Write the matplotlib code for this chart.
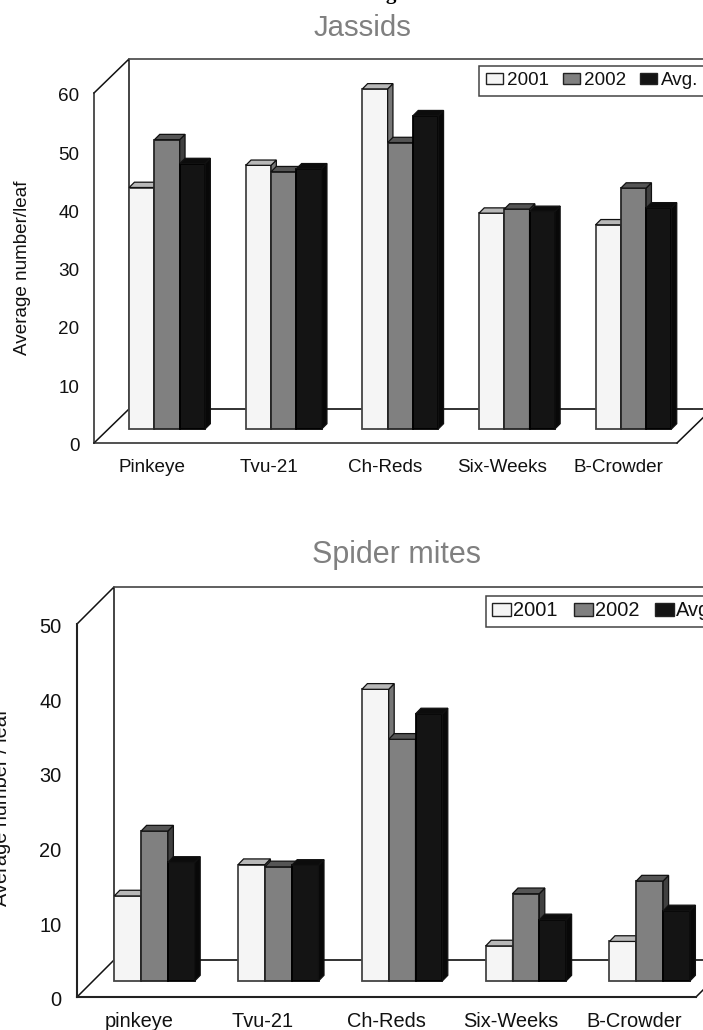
import matplotlib
matplotlib.use("Agg")
import matplotlib.pyplot as plt
from matplotlib.patches import Polygon, Patch
from matplotlib.transforms import ScaledTranslation

plt.rcParams['font.family'] = ['Liberation Sans', 'DejaVu Sans']

# ---- data ----
series_names = ['2001', '2002', 'Avg.']
jassid_categories = ['Pinkeye', 'Tvu-21', 'Ch-Reds', 'Six-Weeks', 'B-Crowder']
jassid_2001 = [41.4, 45.2, 58.3, 37.0, 35.0]
jassid_2002 = [49.6, 44.1, 49.1, 37.7, 41.3]
jassid_avg = [45.5, 44.6, 53.7, 37.3, 37.9]
jassid_ticks = [0, 10, 20, 30, 40, 50, 60]

mite_categories = ['pinkeye', 'Tvu-21', 'Ch-Reds', 'Six-Weeks', 'B-Crowder']
mite_2001 = [11.4, 15.6, 39.1, 4.7, 5.3]
mite_2002 = [20.1, 15.3, 32.4, 11.7, 13.4]
mite_avg = [15.9, 15.5, 35.8, 8.2, 9.4]
mite_ticks = [0, 10, 20, 30, 40, 50]

# ---- style ----
W, H = 703, 1030
front = ['#f5f5f5', '#808080', '#141414']
top = ['#b8b8b8', '#555555', '#0c0c0c']
side = ['#767676', '#404040', '#080808']
edge = ['#444444', '#262626', '#000000']

fig = plt.figure(figsize=(W / 100, H / 100), dpi=100, facecolor='white')


def panel(categories, rows, ticks, ymax, left, right, y0, ytop, wall, floor_px, group_px,
          bar_px, depth, fs, title, title_xy, title_fs, ylabel, ylab_x, ylab_y, ypad, xpad,
          spine_lw, leg_xy, leg_opts):
    ax = fig.add_axes([left / W, (H - y0) / H, (right - left) / W, (y0 - ytop) / H])
    ax.patch.set_alpha(0)
    n = len(categories)
    ax.set_xlim(0, n)
    ax.set_ylim(0, ymax)
    px_x = n / (right - left)
    px_y = ymax / (y0 - ytop)
    wx, wy = wall[0] * px_x, wall[1] * px_y
    base = floor_px * px_y
    offs = group_px * px_x
    bw = bar_px * px_x
    dx, dy = depth[0] * px_x, depth[1] * px_y

    # walls and floor
    line = dict(color='#111111', lw=1.1, clip_on=False, zorder=1)
    ax.plot([0, wx, wx], [ymax, ymax + wy, wy], **line)
    ax.plot([0, wx], [0, wy], **line)
    ax.plot([wx, n + wx], [ymax + wy, ymax + wy], color='#444444', lw=1.2, clip_on=False, zorder=1)
    ax.plot([wx, n + wx], [wy, wy], color='#222222', lw=1.3, clip_on=False, zorder=1)
    ax.plot([n, n + wx], [0, wy], **line)

    # bars with their top and side faces
    for s, vals in enumerate(rows):
        xs = [i + 0.5 + offs + (s - 1) * bw for i in range(n)]
        ax.bar(xs, vals, width=bw, bottom=base, color=front[s], edgecolor=edge[s],
               linewidth=1.3, zorder=3 + s, clip_on=False)
        for x, v in zip(xs, vals):
            yt = base + v
            xl, xr = x - bw / 2, x + bw / 2
            ax.add_patch(Polygon([(xr, base), (xr + dx, base + dy), (xr + dx, yt + dy), (xr, yt)],
                                 closed=True, fc=side[s], ec='#111111', lw=0.9,
                                 zorder=3 + s, clip_on=False))
            ax.add_patch(Polygon([(xl, yt), (xl + dx, yt + dy), (xr + dx, yt + dy), (xr, yt)],
                                 closed=True, fc=top[s], ec='#111111', lw=0.9,
                                 zorder=3 + s, clip_on=False))

    for k in ('top', 'right'):
        ax.spines[k].set_visible(False)
    for k in ('left', 'bottom'):
        ax.spines[k].set_linewidth(spine_lw)
        ax.spines[k].set_color('#222222')
    ax.set_xticks([i + 0.5 for i in range(n)], categories)
    ax.set_yticks(ticks)
    ax.tick_params(axis='y', length=0, pad=ypad, labelsize=fs, labelcolor='#111111')
    ax.tick_params(axis='x', length=0, pad=xpad, labelsize=fs, labelcolor='#111111')
    nudge = ScaledTranslation(0, -1.2 / 72, fig.dpi_scale_trans)
    for lab in ax.get_yticklabels():
        lab.set_transform(lab.get_transform() + nudge)

    ax.set_ylabel(ylabel, fontsize=fs, color='#111111', va='baseline')
    ax.yaxis.set_label_coords((ylab_x - left) / (right - left), (y0 - ylab_y) / (y0 - ytop))

    fig.text(title_xy[0] / W, 1 - title_xy[1] / H, title, fontsize=title_fs, color='#808080',
             ha='center', va='baseline')

    handles = [Patch(facecolor=front[i], edgecolor='#222222', linewidth=1.0, label=series_names[i])
               for i in range(3)]
    leg = ax.legend(handles=handles, loc='upper left', bbox_to_anchor=(leg_xy[0] / W, 1 - leg_xy[1] / H),
                    bbox_transform=fig.transFigure, ncol=3, borderaxespad=0, fontsize=fs,
                    fancybox=False, framealpha=1, edgecolor='#444444', labelcolor='#111111', **leg_opts)
    leg.get_frame().set_linewidth(1.1)
    leg.set_zorder(20)


panel(jassid_categories, [jassid_2001, jassid_2002, jassid_avg], jassid_ticks, 60,
      94, 677, 443, 93, (35, 34), 14, 14.8, 25.3, (5.3, 5.3), 13.6,
      'Jassids', (362, 36), 21.2, 'Average number/leaf', 27, 268, 10.6, 11.8, 1.1,
      (479, 65.5),
      dict(borderpad=0.35, handlelength=0.9, handleheight=0.55, handletextpad=0.22,
           columnspacing=0.74, labelspacing=0))

panel(mite_categories, [mite_2001, mite_2002, mite_avg], mite_ticks, 50,
      77, 696, 997, 624, (37, 37), 16, 15.6, 26.8, (5.5, 5.7), 14.4,
      'Spider mites', (396, 563), 22, 'Average number / leaf', 7, 808, 11.2, 10.7, 1.5,
      (486, 595.5),
      dict(borderpad=0.3, handlelength=0.95, handleheight=0.58, handletextpad=0.1,
           columnspacing=0.8, labelspacing=0))

# remnant of a page heading cut by the top edge of the scan
fig.text(391 / W, 1 + 0.8 / H, 'g', fontsize=15, fontweight='bold', family=['Liberation Serif'],
         ha='center', va='baseline', color='black')

fig.savefig('out.png', dpi=100, facecolor='white')
